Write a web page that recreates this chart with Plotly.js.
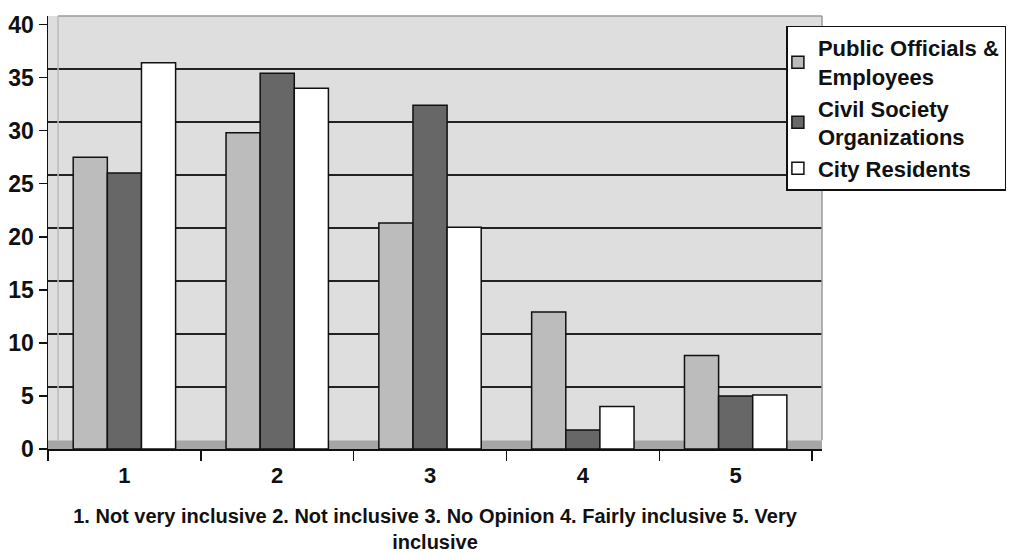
<!DOCTYPE html>
<html><head><meta charset="utf-8">
<script src="https://cdn.plot.ly/plotly-3.0.1.min.js"></script>
<style>html,body{margin:0;padding:0;background:#fff;}#chart{width:1021px;height:553px;}</style>
</head><body><div id="chart"></div>
<script>
const categories = ["1", "2", "3", "4", "5"];
const seriesNames = ["Public Officials &<br>Employees", "Civil Society<br>Organizations", "City Residents"];
const publicOfficials = [27.5, 29.8, 21.3, 12.9, 8.8];
const civilSociety = [26.0, 35.4, 32.4, 1.8, 5.0];
const cityResidents = [36.4, 34.0, 20.9, 4.0, 5.1];
const yTicks = [0, 5, 10, 15, 20, 25, 30, 35, 40];
const xTitle = "1. Not very inclusive 2. Not inclusive 3. No Opinion 4. Fairly inclusive 5. Very<br>inclusive";

const colors = ["#bcbcbc", "#676767", "#ffffff"];
const values = [publicOfficials, civilSociety, cityResidents];
const FONT = "Liberation Sans, Arial, sans-serif";

const traces = values.map((v, i) => ({
  type: "bar",
  x: categories,
  y: v,
  name: seriesNames[i],
  marker: {color: colors[i], line: {color: "#111", width: 1.5}},
  hoverinfo: "y"
}));

// invisible trace to drive shifted back-wall gridlines
traces.push({type: "scatter", x: categories, y: [null, null, null, null, null], yaxis: "y2", showlegend: false, hoverinfo: "skip"});

const layout = {
  width: 1021, height: 553,
  margin: {l: 48, r: 199, t: 16, b: 104},
  paper_bgcolor: "#ffffff",
  plot_bgcolor: "#dedede",
  font: {family: FONT, color: "#111", size: 20},
  barmode: "group",
  bargap: 0.33,
  bargroupgap: 0,
  showlegend: true,
  legend: {
    x: 0.954, xanchor: "left", y: 0.978, yanchor: "top",
    bgcolor: "#ffffff", bordercolor: "#111", borderwidth: 1.5,
    font: {family: FONT, size: 22, color: "#111", weight: "bold"},
    tracegroupgap: 0, itemwidth: 30, indentation: -10
  },
  xaxis: {
    type: "category",
    range: [-0.5, 4.565],
    tickson: "boundaries",
    ticks: "outside", ticklen: 10, tickwidth: 1.5, tickcolor: "#111",
    showline: true, linecolor: "#111", linewidth: 1.5,
    showgrid: false,
    ticklabelstandoff: 6,
    tickfont: {family: FONT, size: 22, weight: "bold", color: "#111"},
    title: {text: xTitle, font: {family: FONT, size: 20, weight: "bold", color: "#111"}, standoff: 26},
    automargin: false,
    fixedrange: true
  },
  yaxis: {
    range: [0, 40.8],
    tickvals: yTicks,
    ticks: "outside", ticklen: 8, tickwidth: 1.5, tickcolor: "#111",
    showline: true, linecolor: "#111", linewidth: 1.5,
    showgrid: false, zeroline: false,
    tickfont: {family: FONT, size: 23, weight: "bold", color: "#111"},
    automargin: false,
    fixedrange: true
  },
  yaxis2: {
    overlaying: "y", side: "right",
    range: [-0.8, 40.0],
    tickvals: [5, 10, 15, 20, 25, 30, 35],
    showticklabels: false, ticks: "",
    showgrid: true, gridcolor: "#222", gridwidth: 2,
    zeroline: false, showline: false,
    fixedrange: true
  },
  shapes: [
    {type: "rect", xref: "paper", yref: "y", x0: 0, x1: 1, y0: 0, y1: 0.8, fillcolor: "#a6a6a6", line: {width: 0}, layer: "below"},
    {type: "line", xref: "paper", yref: "paper", x0: 0.013, x1: 1, y0: 1, y1: 1, line: {color: "#9a9a9a", width: 1.5}},
    {type: "line", xref: "paper", yref: "paper", x0: 1, x1: 1, y0: 0.02, y1: 1, line: {color: "#9a9a9a", width: 1.5}},
    {type: "line", xref: "paper", yref: "paper", x0: 0.013, x1: 0.013, y0: 0.02, y1: 1, line: {color: "#bbbbbb", width: 1.5}}
  ]
};

Plotly.newPlot("chart", traces, layout, {displayModeBar: false, staticPlot: true});
</script>
</body></html>
